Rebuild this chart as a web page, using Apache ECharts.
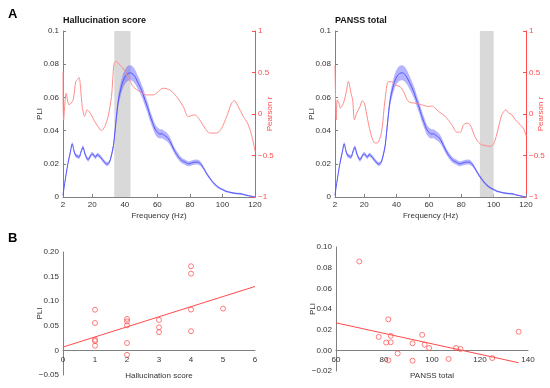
<!DOCTYPE html>
<html>
<head>
<meta charset="utf-8">
<script src="https://cdn.jsdelivr.net/npm/echarts@6/dist/echarts.min.js"></script>
<style>html,body{margin:0;padding:0;background:#fff}#c{width:550px;height:388px}</style>
</head>
<body>
<div id="c"></div>
<script>
// ---- Panel A: PLI spectrum (mean +/- error) ----
const freq = [2,3,5,6.5,7.7,8.7,9.8,11,11.9,13,14.3,15.5,17.4,19,20,21,22,23,24,25.5,27,29,30.5,31.5,33,34.5,36,37.5,39,40.5,42,43.5,45,46.5,48,49.5,51,52.5,54,55.5,57,58.5,60,61.5,63,64.5,66,67.5,69,70.5,72,73.5,75,77,79,81,83,85,86.5,88,89.5,91,92.5,94,96,98,100,102,104,106,108,110,112,114,116,118,120];
const pli = [0.001,0.008,0.020,0.027,0.032,0.028,0.025,0.0245,0.024,0.027,0.030,0.026,0.0225,0.025,0.026,0.025,0.024,0.0255,0.025,0.0235,0.0215,0.0198,0.021,0.024,0.031,0.045,0.058,0.065,0.070,0.073,0.0745,0.0748,0.074,0.072,0.069,0.066,0.0625,0.058,0.054,0.049,0.045,0.041,0.039,0.038,0.038,0.037,0.036,0.034,0.031,0.028,0.0255,0.0235,0.022,0.021,0.020,0.0205,0.021,0.021,0.020,0.018,0.0155,0.013,0.011,0.009,0.007,0.0055,0.0045,0.0035,0.003,0.0025,0.0022,0.002,0.0018,0.0012,0.0008,0.0004,0];
const pliErr = [0.0005,0.0008,0.001,0.0012,0.0012,0.0012,0.0012,0.0012,0.0012,0.0012,0.0012,0.0012,0.0012,0.0012,0.0012,0.0012,0.0012,0.0012,0.0012,0.0012,0.0012,0.0012,0.0012,0.0014,0.002,0.003,0.0035,0.004,0.0042,0.0044,0.0045,0.0045,0.0044,0.0042,0.004,0.0038,0.0036,0.0035,0.0034,0.0033,0.0032,0.003,0.003,0.0028,0.0027,0.0026,0.0025,0.0024,0.0022,0.002,0.0019,0.0018,0.0017,0.0016,0.0015,0.0015,0.0015,0.0015,0.0014,0.0012,0.0011,0.001,0.0009,0.0008,0.0008,0.0007,0.0006,0.0006,0.0005,0.0005,0.0005,0.0005,0.0005,0.0004,0.0004,0.0003,0.0003];

// Pearson r vs frequency, Hallucination score
const rHallFreq = [2,2.4,4,5.7,8.2,9.8,10.8,11.8,13.9,15.3,16.8,18,19.4,21.5,23.5,25.6,27.7,29.7,31.8,33.4,34.8,36.9,38.9,43,45.1,49.2,53.3,57.4,63.6,67.7,71.8,75.9,79,83,86,89.2,92.3,96.4,99.5,102.6,105.6,107.3,109.7,112.8,115.9,118.6,120];
const rHall = [0.5,-0.07,0.25,0.11,0.17,0.39,0.41,0.44,0.08,-0.03,0.05,0.03,-0.01,-0.09,-0.15,-0.2,-0.15,-0.03,0.21,0.61,0.63,0.59,0.55,0.41,0.33,0.27,0.23,0.23,0.31,0.29,0.21,0.09,-0.03,-0.01,-0.07,-0.17,-0.23,-0.23,-0.17,-0.03,0.13,0.16,0.09,-0.03,-0.13,-0.31,-0.45];

// Pearson r vs frequency, PANSS total
const rPanssFreq = [2,2.8,3.4,4.5,5.3,7.2,8.8,10.3,11.9,12.9,14,15.4,17.5,18.9,20.2,22.2,24.7,26.8,28.8,30.9,32.9,35,37.1,39.1,42.2,44.3,47.4,51.5,55.6,59.8,61.8,63.9,66,70.1,74.2,77.3,79.4,81.4,83.5,85.5,88.6,91.7,94.8,97.9,100,102,105.1,107.6,109.3,111.3,113.4,116.5,118.6,120];
const rPanss = [0.59,-0.07,0.17,0.13,0.07,0.13,0.25,0.39,0.25,0.17,-0.07,0.01,0.09,0.16,0.13,-0.07,-0.28,-0.35,-0.34,-0.2,0.17,0.39,0.39,0.35,0.33,0.27,0.15,0.13,0.11,0.09,0.095,0.07,0.03,-0.03,-0.13,-0.22,-0.22,-0.13,-0.11,-0.13,-0.28,-0.36,-0.38,-0.39,-0.36,-0.24,-0.01,0.05,0.01,-0.01,-0.07,-0.13,-0.18,-0.26];

const freqTicks = [2,20,40,60,80,100,120];
const shadeHall = [33.5, 43.5];
const shadePanss = [91.5, 100];

// ---- Panel B: scatter ----
const hallScore = [1,1,1,1,1,2,2,2,2,2,3,3,3,4,4,4,4,5];
const hallPLI = [0.0827,0.0556,0.0217,0.019,0.0095,0.064,0.059,0.051,0.015,-0.009,0.062,0.047,0.037,0.171,0.156,0.083,0.039,0.085];
const hallFitX = [0,6];
const hallFitY = [0.0068,0.130];

const panssTotal = [69.7,77.8,80.9,81.8,81.8,82.8,82.8,85.7,91.9,91.9,95.9,96.9,98.8,106.9,110,111.9,125.1,136.1];
const panssPLI = [0.086,0.013,0.0075,0.030,-0.0097,0.014,0.0078,-0.003,0.0068,-0.010,0.015,0.0055,0.0023,-0.0084,0.0023,0.0013,-0.0075,0.018];
const panssFitX = [60,136.1];
const panssFitY = [0.0266,-0.012];

const FONT = 'Liberation Sans, Arial, sans-serif';
const GRAY = '#808080';
const TXT = '#333';
const RED_AX = '#ff4d4d';
const RED_LINE = '#ff8c8c';
const RED_PT = '#ff4a4a';
const BLUE = '#5555ff';
const BAND = 'rgba(90,90,255,0.45)';
const SHADE = '#d9d9d9';
const minus = s => String(s).replace('-', '\u2212');

function zip(a, b) { return a.map((v, i) => [v, b[i]]); }

const grids = [
  {left: 63, top: 31, width: 192, height: 166, outerBoundsMode: 'none'},
  {left: 335, top: 31, width: 191, height: 166, outerBoundsMode: 'none'},
  {left: 63, top: 252, width: 192, height: 123, outerBoundsMode: 'none'},
  {left: 336, top: 247, width: 192, height: 124, outerBoundsMode: 'none'}
];
const yRangeBL = [-0.05, 0.2];
const yRangeBR = [-0.02, 0.1];
// distance of the y=0 line above each scatter grid's bottom, so the x axis sits on zero
const zeroOffset = (g, r) => -g.height * (0 - r[0]) / (r[1] - r[0]);

const nameStyle = c => ({color: c, fontSize: 8, fontFamily: FONT});

function freqX(gi) {
  return {
    type: 'value', gridIndex: gi, min: 2, max: 120,
    name: 'Frequency (Hz)', nameLocation: 'middle', nameGap: 15, nameMoveOverlap: false,
    nameTextStyle: nameStyle(TXT),
    axisLine: {lineStyle: {color: GRAY, width: 1}},
    axisTick: {inside: true, length: 3, lineStyle: {color: GRAY}, customValues: freqTicks},
    axisLabel: {color: TXT, fontSize: 8, fontFamily: FONT, margin: 4, customValues: freqTicks},
    splitLine: {show: false}
  };
}
function pliY(gi) {
  return {
    type: 'value', gridIndex: gi, min: 0, max: 0.1, interval: 0.02, position: 'left',
    name: 'PLI', nameLocation: 'middle', nameGap: 19, nameMoveOverlap: false,
    nameTextStyle: nameStyle(TXT),
    axisLine: {show: true, lineStyle: {color: GRAY, width: 1}},
    axisTick: {show: true, inside: true, length: 3, lineStyle: {color: GRAY}},
    axisLabel: {color: TXT, fontSize: 8, fontFamily: FONT, margin: 4,
      formatter: v => v === 0 ? '0' : (Math.abs(v - 0.1) < 1e-9 ? '0.1' : v.toFixed(2))},
    splitLine: {show: false}
  };
}
function rY(gi) {
  return {
    type: 'value', gridIndex: gi, min: -1, max: 1, interval: 0.5, position: 'right',
    name: 'Pearson r', nameLocation: 'middle', nameGap: 11, nameMoveOverlap: false,
    nameTextStyle: nameStyle(RED_AX),
    axisLine: {show: true, lineStyle: {color: RED_AX, width: 1}},
    axisTick: {show: true, inside: true, length: 3, lineStyle: {color: RED_AX}},
    axisLabel: {color: RED_AX, fontSize: 8, fontFamily: FONT, margin: 3,
      formatter: v => minus(+v.toFixed(1))},
    splitLine: {show: false}
  };
}

function shadeSeries(xi, yi, range) {
  return {
    type: 'custom', xAxisIndex: xi, yAxisIndex: yi, z: 1, silent: true,
    data: [[range[0], 0, range[1], 0.1]],
    renderItem: (params, api) => {
      const p0 = api.coord([api.value(0), api.value(3)]);
      const p1 = api.coord([api.value(2), api.value(1)]);
      return {type: 'rect', shape: {x: p0[0], y: p0[1], width: p1[0] - p0[0], height: p1[1] - p0[1]},
        style: {fill: SHADE}};
    }
  };
}
function bandSeries(xi, yi) {
  return {
    type: 'custom', xAxisIndex: xi, yAxisIndex: yi, z: 2, silent: true,
    data: freq.map((f, i) => [f, pli[i] + pliErr[i], pli[i] - pliErr[i]]),
    renderItem: (params, api) => {
      if (params.dataIndex !== 0) return null;
      const up = [], lo = [];
      for (let i = 0; i < freq.length; i++) {
        up.push(api.coord([freq[i], pli[i] + pliErr[i]]));
        lo.push(api.coord([freq[i], pli[i] - pliErr[i]]));
      }
      return {type: 'polygon', shape: {points: up.concat(lo.reverse()), smooth: 0.3}, style: {fill: BAND}};
    }
  };
}
function meanLine(xi, yi) {
  return {type: 'line', xAxisIndex: xi, yAxisIndex: yi, z: 3, data: zip(freq, pli), smooth: 0.3,
    showSymbol: false, lineStyle: {color: BLUE, width: 1}, silent: true};
}
function rLine(xi, yi, fx, rv) {
  return {type: 'line', xAxisIndex: xi, yAxisIndex: yi, z: 4, data: zip(fx, rv), smooth: 0.3,
    showSymbol: false, lineStyle: {color: RED_LINE, width: 1}, silent: true};
}
function scatterSeries(xi, yi, xs, ys) {
  return {type: 'scatter', xAxisIndex: xi, yAxisIndex: yi, data: zip(xs, ys), symbol: 'circle', symbolSize: 5,
    itemStyle: {color: 'rgba(255,255,255,0)', borderColor: RED_PT, borderWidth: 0.9}, z: 3};
}
function fitSeries(xi, yi, xs, ys) {
  return {type: 'line', xAxisIndex: xi, yAxisIndex: yi, data: zip(xs, ys), showSymbol: false,
    lineStyle: {color: RED_PT, width: 1}, z: 4, silent: true};
}
function scatterX(gi, name, min, max, interval, offset) {
  return {type: 'value', gridIndex: gi, min: min, max: max, interval: interval, position: 'bottom', offset: offset,
    name: name, nameLocation: 'middle', nameGap: 21, nameMoveOverlap: false,
    nameTextStyle: nameStyle(TXT),
    axisLine: {onZero: false, lineStyle: {color: GRAY}}, axisTick: {show: false},
    axisLabel: {color: TXT, fontSize: 8, fontFamily: FONT, margin: 5}, splitLine: {show: false}};
}

const chart = echarts.init(document.getElementById('c'), null, {renderer: 'canvas'});
chart.setOption({
  animation: false,
  backgroundColor: '#fff',
  title: [
    {text: 'A', left: 3, top: 3, textStyle: {fontSize: 13, fontWeight: 'bold', color: '#000', fontFamily: FONT}},
    {text: 'Hallucination score', left: 58, top: 11, textStyle: {fontSize: 9, fontWeight: 'bold', color: '#111', fontFamily: FONT}},
    {text: 'PANSS total', left: 330, top: 11, textStyle: {fontSize: 9, fontWeight: 'bold', color: '#111', fontFamily: FONT}},
    {text: 'B', left: 3, top: 227, textStyle: {fontSize: 13, fontWeight: 'bold', color: '#000', fontFamily: FONT}}
  ],
  grid: grids,
  xAxis: [
    freqX(0), freqX(1),
    scatterX(2, 'Hallucination score', 0, 6, 1, zeroOffset(grids[2], yRangeBL)),
    scatterX(3, 'PANSS total', 60, 140, 20, zeroOffset(grids[3], yRangeBR))
  ],
  yAxis: [
    pliY(0), rY(0), pliY(1), rY(1),
    {type: 'value', gridIndex: 2, min: yRangeBL[0], max: yRangeBL[1], interval: 0.05,
      name: 'PLI', nameLocation: 'middle', nameGap: 19, nameMoveOverlap: false,
      nameTextStyle: nameStyle(TXT),
      axisLine: {show: true, lineStyle: {color: GRAY}}, axisTick: {show: false},
      axisLabel: {color: TXT, fontSize: 8, fontFamily: FONT, margin: 4,
        formatter: v => Math.abs(v) < 1e-9 ? '0' : minus(v.toFixed(2))},
      splitLine: {show: false}},
    {type: 'value', gridIndex: 3, min: yRangeBR[0], max: yRangeBR[1], interval: 0.02,
      name: 'PLI', nameLocation: 'middle', nameGap: 19, nameMoveOverlap: false,
      nameTextStyle: nameStyle(TXT),
      axisLine: {show: true, lineStyle: {color: GRAY}}, axisTick: {show: false},
      axisLabel: {color: TXT, fontSize: 8, fontFamily: FONT, margin: 4,
        formatter: v => minus((Math.abs(v) < 1e-9 ? 0 : v).toFixed(2))},
      splitLine: {show: false}}
  ],
  series: [
    shadeSeries(0, 0, shadeHall), bandSeries(0, 0), meanLine(0, 0), rLine(0, 1, rHallFreq, rHall),
    shadeSeries(1, 2, shadePanss), bandSeries(1, 2), meanLine(1, 2), rLine(1, 3, rPanssFreq, rPanss),
    scatterSeries(2, 4, hallScore, hallPLI), fitSeries(2, 4, hallFitX, hallFitY),
    scatterSeries(3, 5, panssTotal, panssPLI), fitSeries(3, 5, panssFitX, panssFitY)
  ]
});
</script>
</body>
</html>
